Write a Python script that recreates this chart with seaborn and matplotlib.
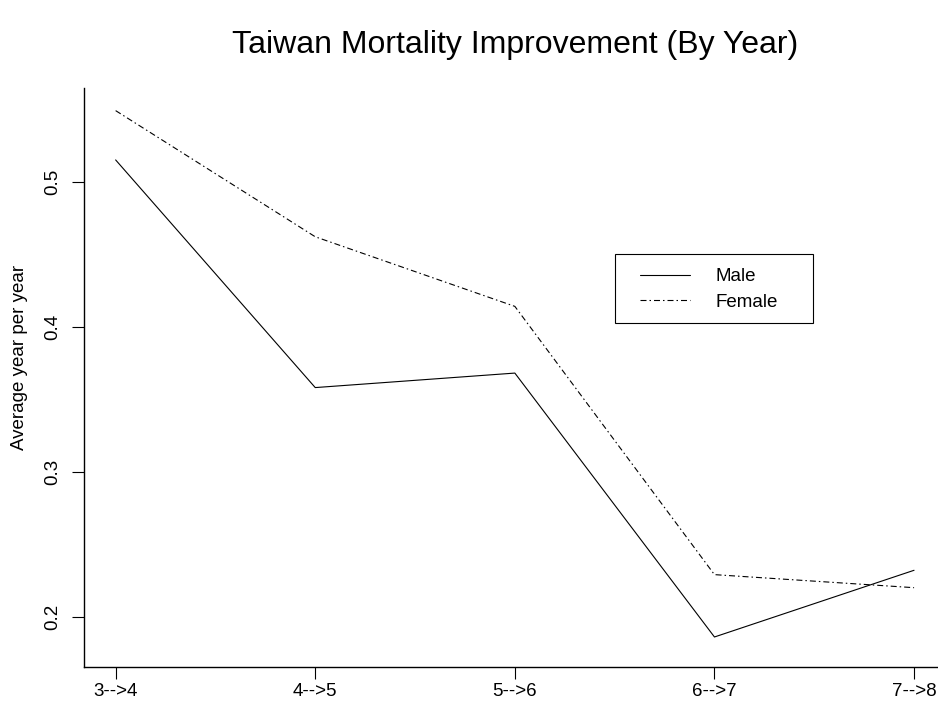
import numpy as np
import pandas as pd
import matplotlib
matplotlib.use('Agg')
import matplotlib.pyplot as plt
import matplotlib.patches as mpatches
import seaborn as sns

# Values
periods = ['3-->4', '4-->5', '5-->6', '6-->7', '7-->8']
male = [0.515, 0.358, 0.368, 0.186, 0.232]
female = [0.549, 0.462, 0.414, 0.229, 0.220]
yticks = [0.2, 0.3, 0.4, 0.5]

df = pd.DataFrame({
    'step': list(range(len(periods))) * 2,
    'value': male + female,
    'sex': ['Male'] * len(periods) + ['Female'] * len(periods),
})

sns.set_theme(style='white')
plt.rcParams['font.family'] = ['Liberation Sans', 'DejaVu Sans']
for key in ['text.color', 'axes.labelcolor', 'xtick.color', 'ytick.color']:
    plt.rcParams[key] = 'black'

W, H = 938, 711
fig = plt.figure(figsize=(W / 100, H / 100), dpi=100)
ax = fig.add_axes([83.7 / W, 1 - 667 / H, (946 - 83.7) / W, (667 - 88) / H])

sns.lineplot(data=df, x='step', y='value', style='sex', color='black',
             dashes={'Male': '', 'Female': (5.4, 2.7, 1.35, 2.7)},
             linewidth=0.8, ax=ax)

ax.set_xlim(-0.16, 4.16)
ax.set_ylim(0.1653, 0.5646)
ax.set_xticks(range(len(periods)))
ax.set_xticklabels(periods, fontsize=13.5)
ax.set_yticks(yticks)
ax.set_yticklabels([str(t) for t in yticks], fontsize=13.5, rotation=90, va='center')
ax.tick_params(axis='both', direction='out', length=8.6, width=0.8, color='black',
               bottom=True, left=True)
ax.tick_params(axis='x', pad=3)
ax.tick_params(axis='y', pad=7.5)
ax.set_xlabel('')
ax.set_ylabel('Average year per year', fontsize=13.5)
ax.yaxis.set_label_coords(-0.0646, 0.535)

sns.despine(ax=ax)
for side in ['left', 'bottom']:
    ax.spines[side].set_color('black')
    ax.spines[side].set_linewidth(1.0)

ax.set_title('Taiwan Mortality Improvement (By Year)', fontsize=23, pad=25)

# legend entries without frame, plus a plain rectangular box like R's legend()
leg = ax.legend(title=None, loc='upper left',
                bbox_to_anchor=(640 / W, 1 - 268 / H),
                bbox_transform=fig.transFigure,
                fontsize=13.5, frameon=False,
                handlelength=2.67, handletextpad=1.33,
                borderpad=0, labelspacing=0.46, borderaxespad=0)
box = mpatches.Rectangle((615 / W, 1 - 323 / H), 198 / W, 69 / H,
                         transform=fig.transFigure, fill=False,
                         edgecolor='black', linewidth=0.8)
fig.patches.append(box)

plt.savefig('out.png', dpi=100)
